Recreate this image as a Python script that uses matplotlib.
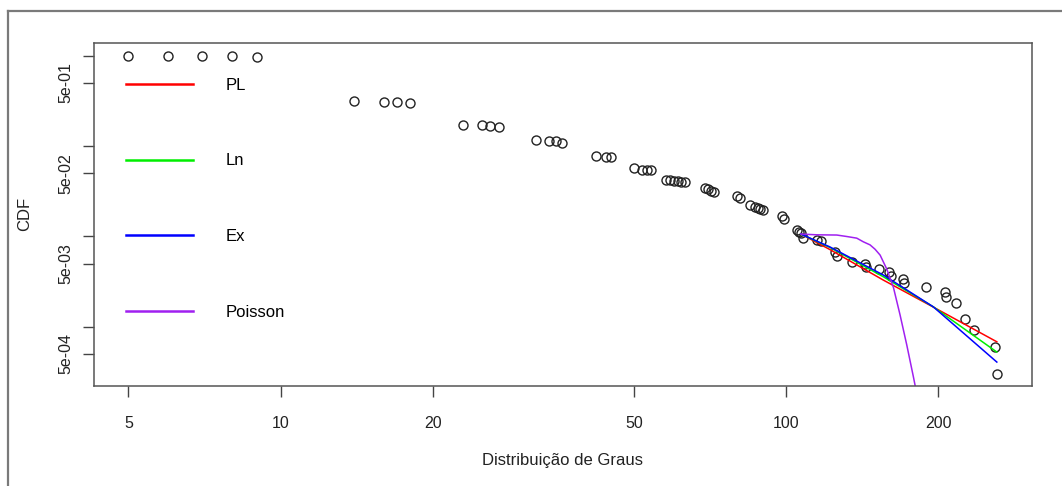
import matplotlib
matplotlib.use("Agg")
import matplotlib.pyplot as plt
from matplotlib.lines import Line2D
from matplotlib.ticker import FixedLocator, NullLocator

plt.rcParams["font.family"] = ["Liberation Sans", "DejaVu Sans"]

degree = [5, 6, 7, 8, 9,
          14, 16, 17, 18,
          23, 25, 26, 27,
          32, 34, 35, 36,
          42, 44, 45,
          50, 52, 53, 54,
          58, 59, 60, 61, 62, 63,
          69, 70, 71, 72,
          80, 81,
          85, 87, 88, 89, 90,
          98, 99,
          105, 106, 107, 108,
          115, 117, 125, 126, 135, 143, 144, 153, 160, 161,
          170, 171, 189, 206, 207, 217, 226, 235, 259, 261]
cdf = [1.0, 0.99, 0.985, 0.98, 0.97,
       0.31, 0.306, 0.303, 0.30,
       0.172, 0.169, 0.166, 0.163,
       0.115, 0.114, 0.112, 0.109,
       0.0773, 0.0760, 0.0748,
       0.0565, 0.0545, 0.0541, 0.0537,
       0.0420, 0.0415, 0.0410, 0.0405, 0.0400, 0.0395,
       0.0340, 0.0330, 0.0320, 0.0311,
       0.0279, 0.0265,
       0.0222, 0.0210, 0.0205, 0.0200, 0.0196,
       0.0168, 0.0154,
       0.01175, 0.01125, 0.0108, 0.00966,
       0.00911, 0.00895, 0.00676, 0.00603, 0.00514, 0.00491, 0.00462,
       0.00435, 0.00400, 0.00364,
       0.00340, 0.00307, 0.00275, 0.00244, 0.00212, 0.00185, 0.00121,
       0.00092, 0.000602, 0.0003]

# Fitted curves
pl_x = [107, 122.2, 155.8, 195.6, 261.2]
pl_y = [0.0106, 0.00713, 0.00328, 0.00165, 0.000682]
ln_x = [107, 122.2, 155.8, 195.6, 261.2]
ln_y = [0.0106, 0.00752, 0.00357, 0.00166, 0.000525]
ex_x = [107, 122.2, 155.8, 195.6, 261.2]
ex_y = [0.0106, 0.00762, 0.00373, 0.00166, 0.000407]
po_x = [107, 115, 126, 132, 138, 142.2, 146.6, 150, 153.5, 158.2,
        163.1, 168.1, 173.3, 178.6, 182.4]
po_y = [0.0106, 0.0104, 0.01034, 0.00995, 0.00955, 0.0087, 0.00805,
        0.0072, 0.0062, 0.00435, 0.00272, 0.00135, 0.00063, 0.00028,
        0.000155]

x_ticks = [5, 10, 20, 50, 100, 200]
y_ticks = [5e-4, 1e-3, 5e-3, 1e-2, 5e-2, 1e-1, 5e-1, 1.0]
y_labels = ["5e-04", "", "5e-03", "", "5e-02", "", "5e-01", ""]

fig = plt.figure(figsize=(10.62, 4.86), dpi=100)
ax = fig.add_axes([0.0885, 0.2064, 0.883, 0.7057])

ax.plot(degree, cdf, linestyle="none", marker="o", markersize=6.5,
        markerfacecolor="none", markeredgecolor="#222222", markeredgewidth=1.0)
ax.plot(pl_x, pl_y, color="#FF0000", lw=1.1, label="PL")
ax.plot(ln_x, ln_y, color="#00EE00", lw=1.1, label="Ln")
ax.plot(ex_x, ex_y, color="#0000FF", lw=1.1, label="Ex")
ax.plot(po_x, po_y, color="#A020F0", lw=1.1, label="Poisson")

ax.set_xscale("log")
ax.set_yscale("log")
ax.set_xlim(4.276, 306.2)
ax.set_ylim(2.23e-4, 1.385)

ax.xaxis.set_major_locator(FixedLocator(x_ticks))
ax.xaxis.set_minor_locator(NullLocator())
ax.set_xticklabels([str(t) for t in x_ticks])
ax.yaxis.set_major_locator(FixedLocator(y_ticks))
ax.yaxis.set_minor_locator(NullLocator())
ax.set_yticklabels(y_labels, rotation=90, va="center")

ax.tick_params(direction="out", length=8, width=1, color="#444444",
               labelsize=11.5, labelcolor="#222222")
ax.tick_params(axis="x", pad=14)
ax.tick_params(axis="y", pad=7)
for sp in ax.spines.values():
    sp.set_color("#555555")
    sp.set_linewidth(1.1)

ax.set_xlabel("Distribuição de Graus", fontsize=12, color="#222222", labelpad=16)
ax.set_ylabel("CDF", fontsize=12, color="#222222", labelpad=19)

leg = ax.legend(loc="upper left", frameon=False,
                fontsize=12, handlelength=4.0, handletextpad=2.0,
                labelspacing=3.64, borderaxespad=0.0, borderpad=0.0)
for h in leg.get_lines():
    h.set_linewidth(1.8)
leg.set_bbox_to_anchor((32 / 936, 0.898), transform=ax.transAxes)

# outer frame (top and left edges only visible)
fig.add_artist(Line2D([8 / 1062, 1.0], [1 - 11 / 486, 1 - 11 / 486],
                      transform=fig.transFigure, color="#7a7a7a", lw=1.6))
fig.add_artist(Line2D([8 / 1062, 8 / 1062], [0.0, 1 - 11 / 486],
                      transform=fig.transFigure, color="#7a7a7a", lw=1.6))

fig.savefig("out.png", dpi=100, facecolor="white")
